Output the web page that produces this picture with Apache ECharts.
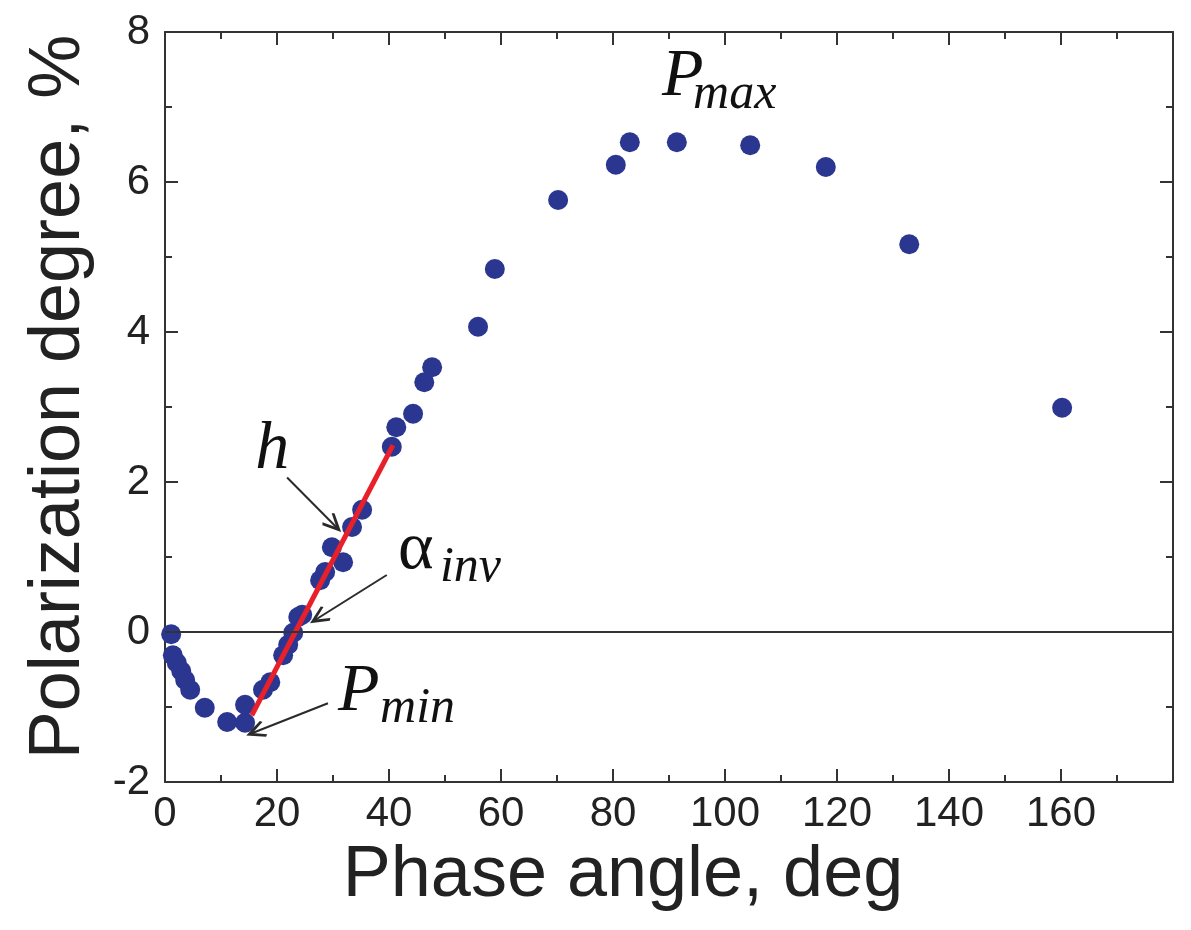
<!DOCTYPE html>
<html>
<head>
<meta charset="utf-8">
<script src="https://cdn.jsdelivr.net/npm/echarts@6/dist/echarts.min.js"></script>
<style>
  html, body { margin: 0; padding: 0; background: #fff; }
  #chart { width: 1191px; height: 930px; }
</style>
</head>
<body>
<div id="chart"></div>
<script>
// Phase-angle dependence of the degree of linear polarization
const phaseAngle = [1.1, 1.4, 2.1, 2.9, 3.6, 4.5, 7.1, 11.1, 14.3, 14.3, 17.5, 18.8, 21.1, 22.0, 22.9,
  23.8, 24.5, 27.7, 28.6, 29.8, 31.8, 33.4, 35.2, 40.5, 41.3, 44.3, 46.3, 47.7, 55.9, 58.9,
  70.2, 80.5, 83.0, 91.4, 104.5, 118.0, 132.9, 160.2];
const polarization = [-0.03, -0.31, -0.41, -0.52, -0.64, -0.77, -1.01, -1.2, -1.21, -0.97, -0.77, -0.67, -0.31, -0.17, -0.01,
  0.2, 0.23, 0.69, 0.8, 1.13, 0.93, 1.4, 1.63, 2.47, 2.73, 2.91, 3.33, 3.53, 4.07, 4.84,
  5.76, 6.23, 6.53, 6.53, 6.49, 6.2, 5.17, 2.99];

// linear fit of the branch around the inversion angle (slope h)
const fitX = [15.5, 40.7];
const fitY = [-1.11, 2.49];

// axis ticks
const xTicks = [0, 20, 40, 60, 80, 100, 120, 140, 160];
const yTicks = [-2, 0, 2, 4, 6, 8];

// annotation arrows: [fromX, fromY, toX, toY]
const arrowH = [21.8, 2.06, 30.7, 1.39];
const arrowInv = [39.6, 0.76, 26.8, 0.16];
const arrowMin = [29.1, -0.95, 15.5, -1.35];

// annotation labels: main symbol + subscript, anchored in data space
const labels = [
  { main: 'P', sub: 'max', at: [88.75, 7.4], subAt: [94.3, 7.16], mainItalic: true },
  { main: 'P', sub: 'min', at: [30.9, -0.8], subAt: [38.4, -1.03], mainItalic: true },
  { main: 'α', sub: 'inv', at: [41.6, 1.09], subAt: [49.1, 0.85], mainItalic: false },
  { main: 'h', sub: '', at: [16.1, 2.43], subAt: null, mainItalic: true }
];

const axisColor = '#333';
const textColor = '#222';
const markerColor = '#2b3691';

const points = phaseAngle.map((x, i) => [x, polarization[i]]);
const fitLine = fitX.map((x, i) => [x, fitY[i]]);

// open (chevron) arrow head
const arrowHead = 'path://M5,0 L10,9 L8.8,10 L5,3.4 L1.2,10 L0,9 Z';
function arrow(a) {
  return [
    { coord: [a[0], a[1]], symbol: 'none' },
    { coord: [a[2], a[3]], symbol: arrowHead, symbolSize: [17, 20], symbolOffset: [0, 4] }
  ];
}

const chart = echarts.init(document.getElementById('chart'), null, { renderer: 'canvas' });

const baseX = {
  type: 'value', min: 0, max: 180, interval: 20,
  axisLine: { show: true, onZero: false, lineStyle: { color: axisColor, width: 2 } },
  axisTick: { show: true, inside: true, length: 13, lineStyle: { color: axisColor, width: 2 } },
  minorTick: { show: true, splitNumber: 2, length: 7, lineStyle: { color: axisColor, width: 2 } },
  splitLine: { show: false },
  minorSplitLine: { show: false }
};
const baseY = {
  type: 'value', min: -2, max: 8, interval: 2,
  axisLine: { show: true, onZero: false, lineStyle: { color: axisColor, width: 2 } },
  axisTick: { show: true, inside: true, length: 13, lineStyle: { color: axisColor, width: 2 } },
  minorTick: { show: true, splitNumber: 2, length: 7, lineStyle: { color: axisColor, width: 2 } },
  splitLine: { show: false },
  minorSplitLine: { show: false }
};

chart.setOption({
  animation: false,
  backgroundColor: '#fff',
  grid: { left: 165, right: 18, top: 32, bottom: 148, containLabel: false },
  xAxis: [
    Object.assign({}, baseX, {
      position: 'bottom',
      name: 'Phase angle, deg',
      nameLocation: 'middle',
      nameGap: 48,
      nameTextStyle: { fontFamily: 'Liberation Sans', fontSize: 72, color: textColor, padding: [0, 92, 0, 0] },
      axisLabel: {
        show: true, margin: 11, fontFamily: 'Liberation Sans', fontSize: 42, color: textColor,
        showMaxLabel: false,
        formatter: v => (xTicks.indexOf(v) >= 0 ? String(v) : '')
      }
    }),
    Object.assign({}, baseX, { position: 'top', axisLabel: { show: false } })
  ],
  yAxis: [
    Object.assign({}, baseY, {
      position: 'left',
      name: 'Polarization degree, %',
      nameLocation: 'middle',
      nameGap: 70,
      nameRotate: 90,
      nameTextStyle: { fontFamily: 'Liberation Sans', fontSize: 72, color: textColor, padding: [0, 0, 0, 20] },
      axisLabel: {
        show: true, margin: 15, fontFamily: 'Liberation Sans', fontSize: 42, color: textColor,
        formatter: v => (yTicks.indexOf(v) >= 0 ? String(v) : '')
      }
    }),
    Object.assign({}, baseY, { position: 'right', axisLabel: { show: false } })
  ],
  series: [
    {
      name: 'P',
      type: 'scatter',
      data: points,
      symbol: 'circle',
      symbolSize: 20,
      itemStyle: { color: markerColor, opacity: 1 },
      z: 3,
      markLine: {
        silent: true,
        animation: false,
        symbol: 'none',
        label: { show: false },
        lineStyle: { color: axisColor, width: 2, type: 'solid' },
        data: [
          [{ coord: [0, 0] }, { coord: [180, 0] }]
        ]
      }
    },
    {
      name: 'fit',
      type: 'line',
      data: fitLine,
      symbol: 'none',
      lineStyle: { color: '#e8202a', width: 5 },
      z: 4,
      markLine: {
        silent: true,
        animation: false,
        label: { show: false },
        lineStyle: { color: '#2a2a2a', width: 2, type: 'solid' },
        itemStyle: { color: '#2a2a2a' },
        data: [arrow(arrowH), arrow(arrowInv), arrow(arrowMin)]
      }
    }
  ]
});

// annotation texts (serif, italic subscripts)
const graphics = [];
labels.forEach(l => {
  const p = chart.convertToPixel({ xAxisIndex: 0, yAxisIndex: 0 }, l.at);
  graphics.push({
    type: 'text', x: p[0], y: p[1], silent: true, z: 10,
    style: {
      text: l.main, fill: '#111',
      font: (l.mainItalic ? 'italic ' : '') + '68px "Liberation Serif"',
      align: 'left', verticalAlign: 'middle'
    }
  });
  if (l.subAt) {
    const s = chart.convertToPixel({ xAxisIndex: 0, yAxisIndex: 0 }, l.subAt);
    graphics.push({
      type: 'text', x: s[0], y: s[1], silent: true, z: 10,
      style: {
        text: l.sub, fill: '#111',
        font: 'italic 50px "Liberation Serif"',
        align: 'left', verticalAlign: 'middle'
      }
    });
  }
});
chart.setOption({ graphic: graphics });
</script>
</body>
</html>
